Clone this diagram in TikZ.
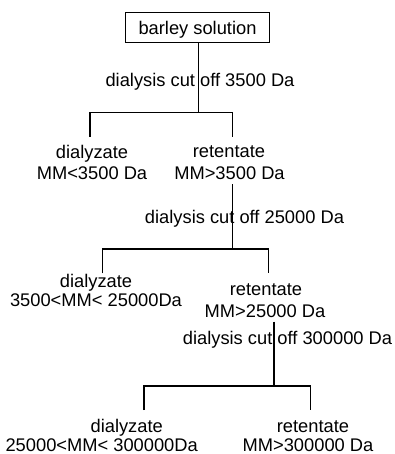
\documentclass[tikz,border=0pt]{standalone}
\usepackage{fontspec}
\setmainfont{Liberation Sans}
\begin{document}
\begin{tikzpicture}[x=1pt,y=-1pt,
  txt/.style={anchor=base,inner sep=0pt,font=\fontsize{18.3}{22}\selectfont},
  conn/.style={line width=1.1pt}]
\useasboundingbox (0,0) rectangle (394,454);
% top box
\node (box) [draw,line width=1.2pt,minimum width=143.6pt,minimum height=30pt,inner sep=0pt,
  text height=13.6pt,text depth=0pt,font=\fontsize{18.3}{22}\selectfont] at (197.5,27.7) {barley solution};
% level 1
\node (cut1) [txt] at (200,87) {dialysis cut off 3500 Da};
\node (dz1a) [txt] at (92,159) {dialyzate};
\node (dz1b) [txt] at (92,179.5) {MM<3500 Da};
\node (rt1a) [txt] at (229,157.5) {retentate};
\node (rt1b) [txt] at (229.5,179.5) {MM>3500 Da};
\coordinate (j1) at (198.3,112.3);
\coordinate (d1) at (90,136.7);
\coordinate (r1) at (232.7,136.7);
\draw[conn] (box.south -| j1) -- (j1);
\draw[conn] (d1) |- (j1) -| (r1);
% level 2
\node (cut2) [txt] at (244.5,223.3) {dialysis cut off 25000 Da};
\node (dz2a) [txt] at (96,287.7) {dialyzate};
\node (dz2b) [txt] at (96,306) {3500<MM< 25000Da};
\node (rt2a) [txt] at (266,295.7) {retentate};
\node (rt2b) [txt] at (265,317.3) {MM>25000 Da};
\coordinate (s2) at (232.7,184.3);
\coordinate (j2) at (232.7,249);
\coordinate (d2) at (102.3,273.3);
\coordinate (r2) at (268.7,273.3);
\draw[conn] (s2) -- (j2);
\draw[conn] (d2) |- (j2) -| (r2);
% level 3
\node (cut3) [txt] at (287.5,344.5) {dialysis cut off 300000 Da};
\node (dz3a) [txt] at (126.7,432.5) {dialyzate};
\node (dz3b) [txt] at (101.7,451) {25000<MM< 300000Da};
\node (rt3a) [txt] at (313,432.5) {retentate};
\node (rt3b) [txt] at (308,451) {MM>300000 Da};
\coordinate (s3) at (274,321.7);
\coordinate (j3) at (274,386);
\coordinate (d3) at (144,410);
\coordinate (r3) at (310.7,410);
\draw[conn] (s3) -- (j3);
\draw[conn] (d3) |- (j3) -| (r3);
\end{tikzpicture}
\end{document}
